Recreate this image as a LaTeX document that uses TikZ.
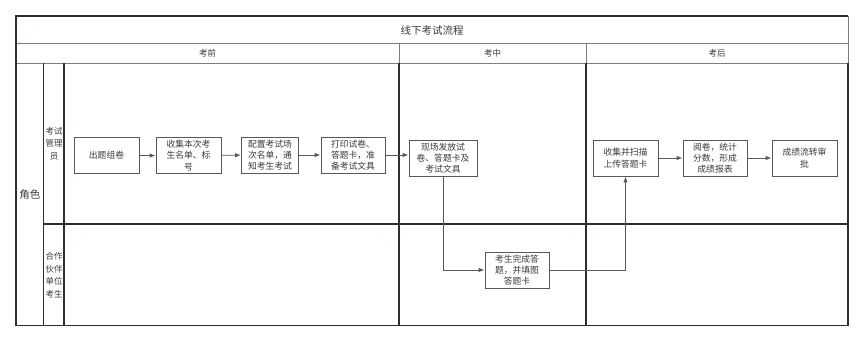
\documentclass[tikz,border=0pt]{standalone}
\usepackage{fontspec}
\setmainfont{Noto Sans CJK SC}
\usetikzlibrary{arrows.meta}
\definecolor{framedark}{HTML}{2B3035}
\definecolor{framegray}{HTML}{7A7F84}
\definecolor{boxline}{HTML}{55595E}
\definecolor{textgray}{HTML}{3A3A3A}

\begin{document}
\begin{tikzpicture}[x=1pt, y=-1pt,
    stepbox/.style={draw=boxline, line width=0.9pt, fill=white, minimum width=65pt,
      minimum height=36pt, inner sep=1pt, align=center, text=textgray,
      font=\fontsize{8.8}{11.3}\selectfont},
    lanetext/.style={text=textgray, align=center, inner sep=0pt, font=\fontsize{8.5}{12.5}\selectfont},
    flow/.style={-{Latex[length=6pt,width=4.5pt]}, boxline, line width=0.9pt},
    laneline/.style={framedark, line width=1.1pt},
    headline/.style={framegray, line width=1pt}]
  \useasboundingbox (0,0) rectangle (865,343);
  % title and phase header
  \draw[headline] (16,43) -- (848,43) (16,63) -- (848,63);
  \draw[headline] (399,43) -- (399,63) (586,43) -- (586,63);
  \draw[headline] (848,16) -- (848,63);
  \node[text=textgray, font=\fontsize{10.5}{12}\selectfont] (title) at (432,30) {线下考试流程};
  \foreach \x/\name/\txt in {207.5/pre/考前, 492.5/mid/考中, 717/post/考后}
    \node[text=textgray, font=\fontsize{8.5}{10}\selectfont] (\name) at (\x,53) {\txt};
  % lanes
  \draw[laneline] (848,63) -- (848,325.5) -- (16,325.5) -- (16,16) -- (848,16);
  \draw[laneline] (43.5,63) -- (43.5,325.5) (64,63) -- (64,325.5);
  \draw[laneline] (399,63) -- (399,325.5) (586,63) -- (586,325.5);
  \draw[laneline] (43.5,224) -- (848,224);
  \node[text=textgray, font=\fontsize{10.5}{12}\selectfont] (role) at (30,194.5) {角色};
  \node[lanetext] (admin) at (54,143.5) {考试\\管理\\员};
  \node[lanetext] (partner) at (54,275) {合作\\伙伴\\单位\\考生};
  % steps
  \node[stepbox] (b1) at (106.5,155.5) {出题组卷};
  \node[stepbox] (b2) at (188.5,155.5) {收集本次考\\生名单、标\\号};
  \node[stepbox, minimum width=57pt] (b3) at (270,155) {配置考试场\\次名单，通\\知考生考试};
  \node[stepbox, minimum width=64pt] (b4) at (353,155) {打印试卷、\\答题卡，准\\备考试文具};
  \node[stepbox, minimum width=68pt] (b5) at (443,158) {现场发放试\\卷、答题卡及\\考试文具};
  \node[stepbox, minimum width=64pt] (b6) at (517,270) {考生完成答\\题，并填图\\答题卡};
  \node[stepbox] (b7) at (625.5,158) {收集并扫描\\上传答题卡};
  \node[stepbox, minimum width=64pt] (b8) at (715,158) {阅卷，统计\\分数，形成\\成绩报表};
  \node[stepbox] (b9) at (804.5,158) {成绩流转审\\批};
  % flow
  \draw[flow] (b1) -- (b2);
  \draw[flow] (b2) -- (b3);
  \draw[flow] (b3) -- (b4);
  \draw[flow] (b4.east) -- (b4.east -| b5.west);
  \draw[flow] (b5.south) |- (b6.west);
  \draw[flow] (b6.east) -| (b7.south);
  \draw[flow] (b7) -- (b8);
  \draw[flow] (b8) -- (b9);
\end{tikzpicture}
\end{document}
